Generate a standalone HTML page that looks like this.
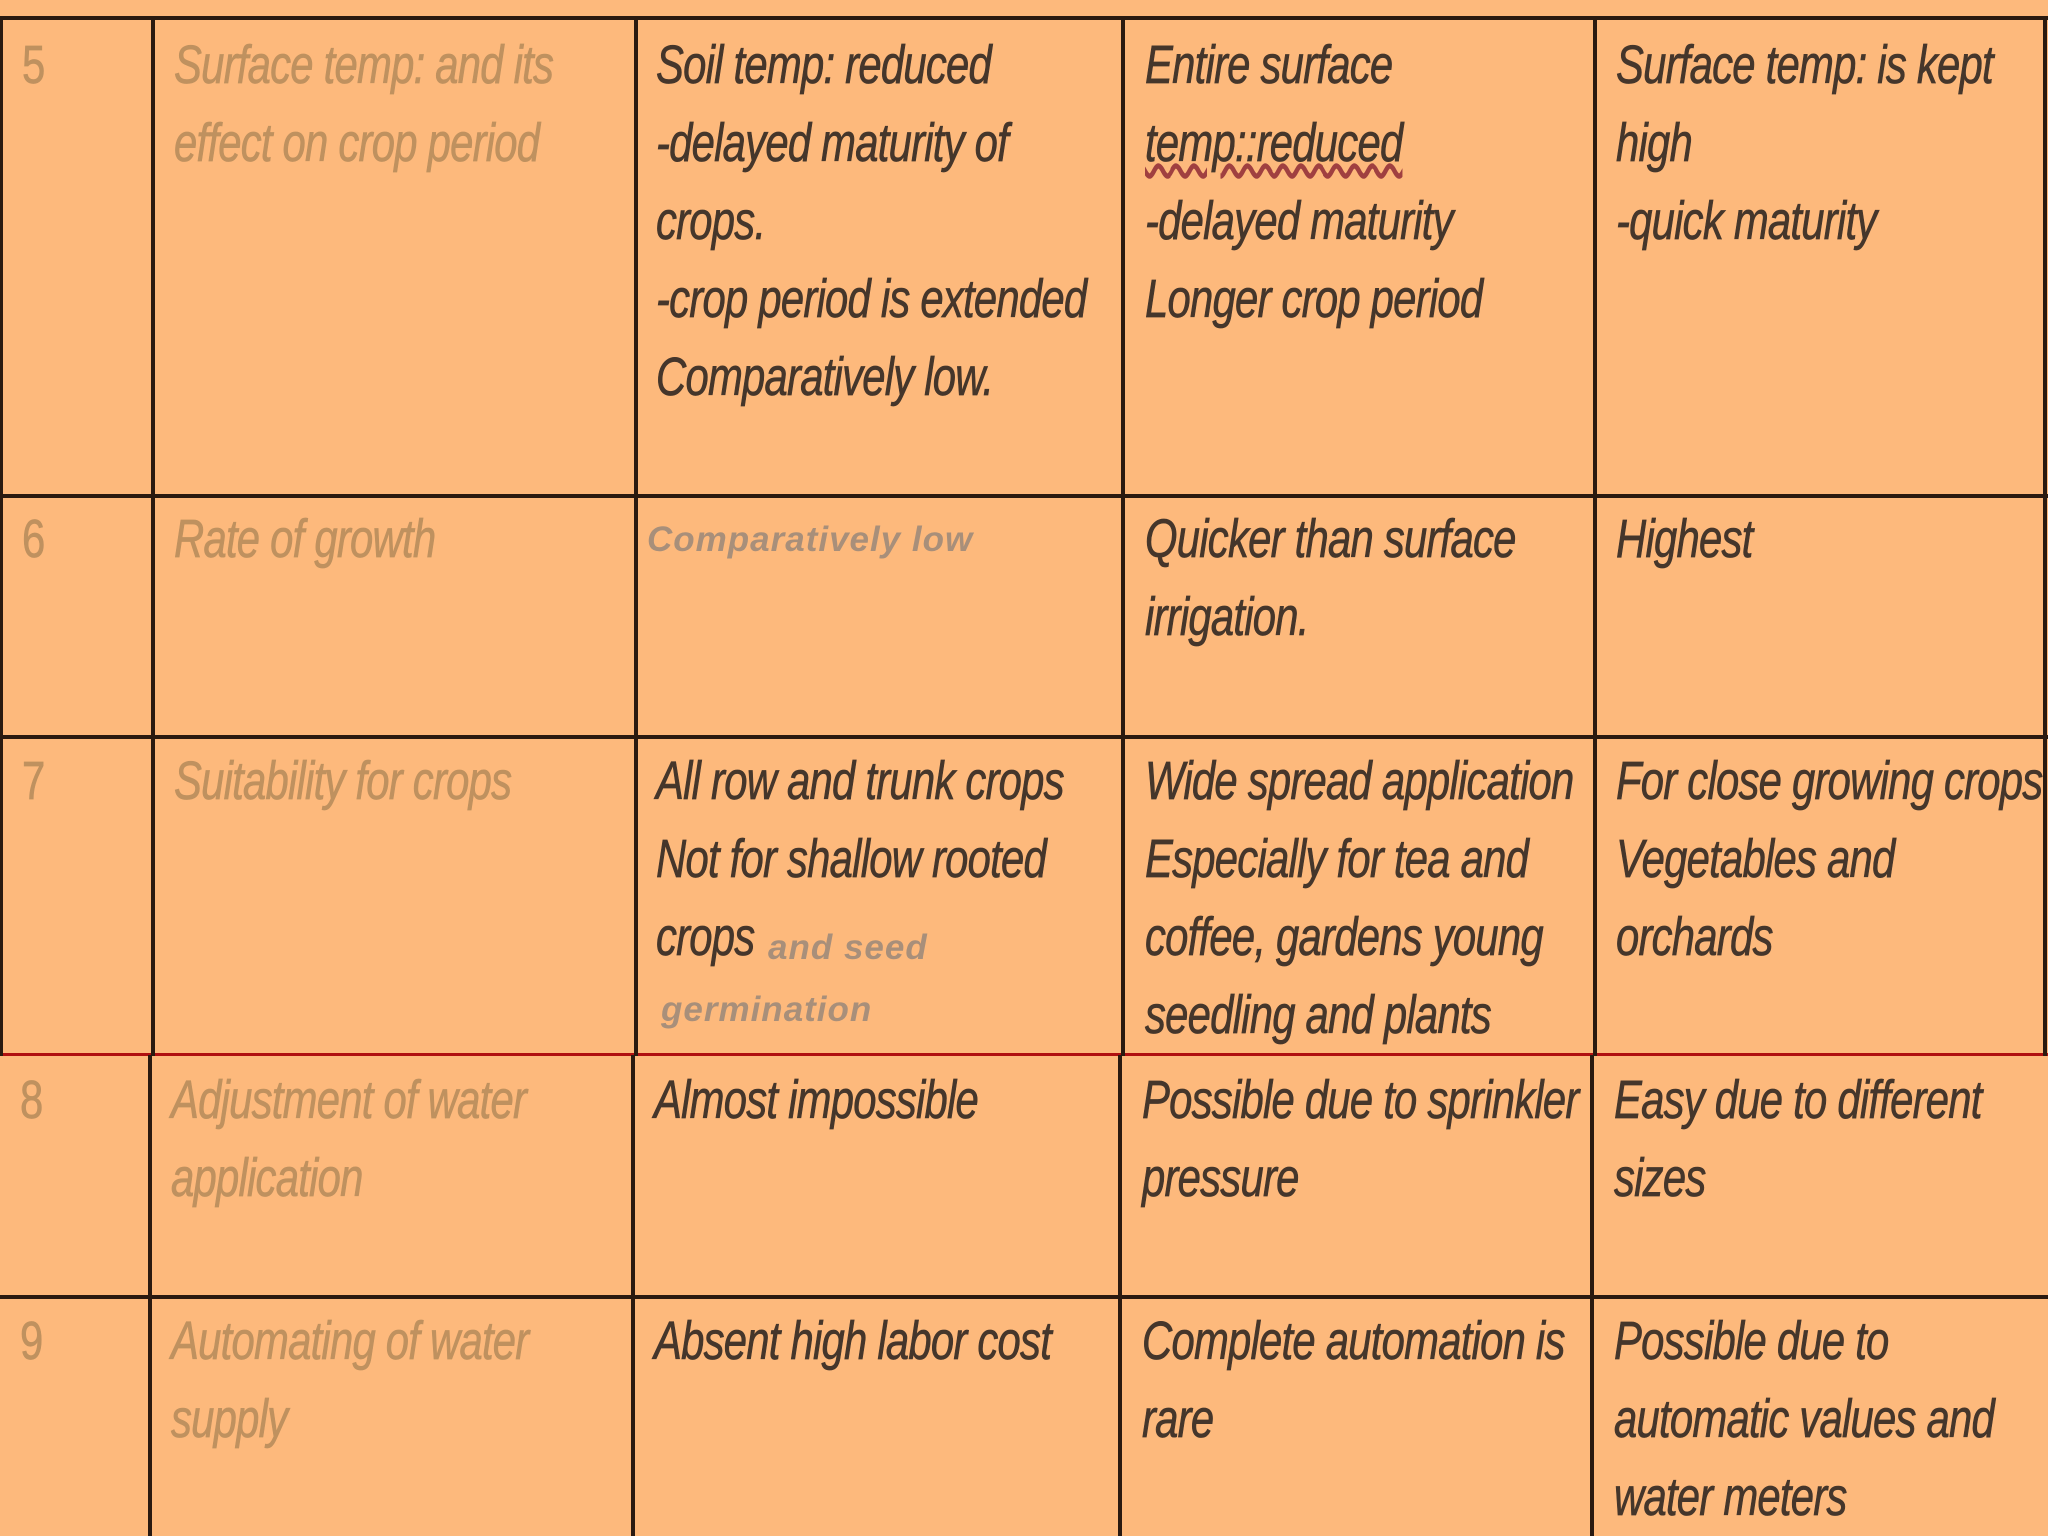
<!DOCTYPE html>
<html><head><meta charset="utf-8"><style>
html,body{margin:0;padding:0}
body{width:2048px;height:1536px;background:#fdb97c;position:relative;overflow:hidden;font-family:"Liberation Sans",sans-serif;}
.h,.v{position:absolute;background:#2a1a10}
.t{position:absolute;font-style:italic;font-size:54px;line-height:78px;color:#45362b;white-space:nowrap;letter-spacing:-1px;transform:scaleX(0.775);transform-origin:0 0;-webkit-text-stroke:0.7px currentColor}
.g{color:#bf915f}
.s{font-family:"Liberation Sans",sans-serif;font-weight:bold;font-size:35px;color:#a88f7a;letter-spacing:1px;transform:none;-webkit-text-stroke:0}
</style></head><body>
<div class="h" style="left:0;top:16px;width:2048px;height:4px"></div>
<div class="h" style="left:0;top:494px;width:2048px;height:4px"></div>
<div class="h" style="left:0;top:735px;width:2048px;height:4px"></div>
<div class="h" style="left:0;top:1053px;width:2048px;height:3px;background:#b01010"></div>
<div class="h" style="left:0;top:1295px;width:2048px;height:4px"></div>
<div class="v" style="left:0;top:16px;width:3px;height:1040px"></div>
<div class="v" style="left:2043px;top:16px;width:4px;height:1040px"></div>
<div class="v" style="left:151px;top:16px;width:4px;height:1040px"></div>
<div class="v" style="left:634px;top:16px;width:4px;height:1040px"></div>
<div class="v" style="left:1121px;top:16px;width:4px;height:1040px"></div>
<div class="v" style="left:1593px;top:16px;width:4px;height:1040px"></div>
<div class="v" style="left:148px;top:1055px;width:4px;height:481px"></div>
<div class="v" style="left:631px;top:1055px;width:4px;height:481px"></div>
<div class="v" style="left:1118px;top:1055px;width:4px;height:481px"></div>
<div class="v" style="left:1590px;top:1055px;width:4px;height:481px"></div>

<div class="t g" style="left:22px;top:26px;font-style:normal">5</div>
<div class="t g" style="left:174px;top:26px">Surface temp: and its<br>effect on crop period</div>
<div class="t" style="left:656px;top:26px">Soil temp: reduced<br>-delayed maturity of<br>crops.<br>-crop period is extended<br>Comparatively low.</div>
<div class="t" style="left:1145px;top:26px">Entire surface<br><span style="text-decoration:underline wavy #a04040">temp::reduced</span><br>-delayed maturity<br>Longer crop period</div>
<div class="t" style="left:1616px;top:26px">Surface temp: is kept<br>high<br>-quick maturity</div>

<div class="t g" style="left:22px;top:500px;font-style:normal">6</div>
<div class="t g" style="left:174px;top:500px">Rate of growth</div>
<div class="t s" style="left:647px;top:520px;line-height:40px">Comparatively low</div>
<div class="t" style="left:1145px;top:500px">Quicker than surface<br>irrigation.</div>
<div class="t" style="left:1616px;top:500px">Highest</div>

<div class="t g" style="left:22px;top:742px;font-style:normal">7</div>
<div class="t g" style="left:174px;top:742px">Suitability for crops</div>
<div class="t" style="left:656px;top:742px">All row and trunk crops<br>Not for shallow rooted<br>crops</div>
<div class="t s" style="left:768px;top:928px;line-height:40px">and seed</div>
<div class="t s" style="left:661px;top:990px;line-height:40px">germination</div>
<div class="t" style="left:1145px;top:742px">Wide spread application<br>Especially for tea and<br>coffee, gardens young<br>seedling and plants</div>
<div class="t" style="left:1616px;top:742px">For close growing crops<br>Vegetables and<br>orchards</div>

<div class="t g" style="left:20px;top:1061px;font-style:normal">8</div>
<div class="t g" style="left:171px;top:1061px">Adjustment of water<br>application</div>
<div class="t" style="left:654px;top:1061px">Almost impossible</div>
<div class="t" style="left:1142px;top:1061px">Possible due to sprinkler<br>pressure</div>
<div class="t" style="left:1614px;top:1061px">Easy due to different<br>sizes</div>

<div class="t g" style="left:20px;top:1302px;font-style:normal">9</div>
<div class="t g" style="left:171px;top:1302px">Automating of water<br>supply</div>
<div class="t" style="left:654px;top:1302px">Absent high labor cost</div>
<div class="t" style="left:1142px;top:1302px">Complete automation is<br>rare</div>
<div class="t" style="left:1614px;top:1302px">Possible due to<br>automatic values and<br>water meters</div>
</body></html>
